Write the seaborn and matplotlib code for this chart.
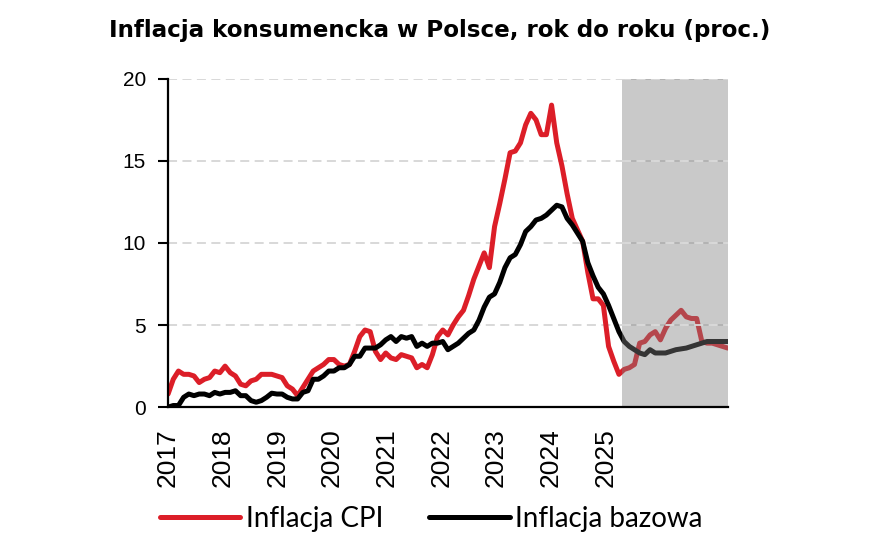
import numpy as np
import pandas as pd
import matplotlib
matplotlib.use('Agg')
import matplotlib.pyplot as plt
import seaborn as sns

# miesiace: XII 2016 - XII 2025
months = pd.date_range('2016-12-01', '2025-12-01', freq='MS')

cpi = [0.8,
       1.7, 2.2, 2.0, 2.0, 1.9, 1.5, 1.7, 1.8, 2.2, 2.1, 2.5, 2.1,
       1.9, 1.4, 1.3, 1.6, 1.7, 2.0, 2.0, 2.0, 1.9, 1.8, 1.3, 1.1,
       0.7, 1.2, 1.7, 2.2, 2.4, 2.6, 2.9, 2.9, 2.6, 2.5, 2.6, 3.4,
       4.3, 4.7, 4.6, 3.4, 2.9, 3.3, 3.0, 2.9, 3.2, 3.1, 3.0, 2.4,
       2.6, 2.4, 3.2, 4.3, 4.7, 4.4, 5.0, 5.5, 5.9, 6.8, 7.8, 8.6,
       9.4, 8.5, 11.0, 12.4, 13.9, 15.5, 15.6, 16.1, 17.2, 17.9, 17.5, 16.6,
       16.6, 18.4, 16.1, 14.7, 13.0, 11.5, 10.8, 10.1, 8.2, 6.6, 6.6, 6.2,
       3.7, 2.8, 2.0, 2.3, 2.4, 2.6, 3.9, 4.0, 4.4, 4.6, 4.1, 4.8,
       5.3, 5.6, 5.9, 5.5, 5.4, 5.4, 4.0, 3.9, 3.9, 3.8, 3.7, 3.6]

bazowa = [0.0,
          0.1, 0.1, 0.6, 0.8, 0.7, 0.8, 0.8, 0.7, 0.9, 0.8, 0.9, 0.9,
          1.0, 0.7, 0.7, 0.4, 0.3, 0.4, 0.6, 0.85, 0.8, 0.8, 0.6, 0.5,
          0.5, 0.9, 1.0, 1.7, 1.7, 1.9, 2.2, 2.2, 2.4, 2.4, 2.6, 3.1,
          3.1, 3.6, 3.6, 3.6, 3.8, 4.1, 4.3, 4.0, 4.3, 4.2, 4.3, 3.7,
          3.9, 3.7, 3.9, 3.9, 4.0, 3.5, 3.7, 3.9, 4.2, 4.5, 4.7, 5.3,
          6.1, 6.7, 6.9, 7.6, 8.5, 9.1, 9.3, 9.9, 10.7, 11.0, 11.4, 11.5,
          11.7, 12.0, 12.3, 12.2, 11.5, 11.1, 10.6, 10.1, 8.8, 8.0, 7.3, 6.9,
          6.2, 5.4, 4.6, 4.0, 3.7, 3.5, 3.3, 3.2, 3.5, 3.3, 3.3, 3.3,
          3.4, 3.5, 3.55, 3.6, 3.7, 3.8, 3.9, 4.0, 4.0, 4.0, 4.0, 4.0]

year_labels = ['2017', '2018', '2019', '2020', '2021', '2022', '2023', '2024', '2025']
y_ticks = [0, 5, 10, 15, 20]
prognoza_od = 87.5  # polowa III/IV 2024

df = pd.DataFrame({'t': np.arange(len(months)), 'cpi': cpi, 'bazowa': bazowa})

sns.set_style('white')
plt.rcParams['font.family'] = ['Liberation Sans', 'DejaVu Sans']
plt.rcParams['text.color'] = 'black'
plt.rcParams['xtick.color'] = 'black'
plt.rcParams['ytick.color'] = 'black'

fig = plt.figure(figsize=(8.8, 5.4), dpi=100)
ax = fig.add_axes([0.191, 0.246, 0.636, 0.608])

red = '#dc1e28'
sns.lineplot(data=df, x='t', y='cpi', color=red, lw=3.6, ax=ax, zorder=2,
             label='Inflacja CPI')
sns.lineplot(data=df, x='t', y='bazowa', color='black', lw=3.6, ax=ax, zorder=2,
             label='Inflacja bazowa')

# siatka pod liniami
for v in y_ticks[1:]:
    ax.axhline(v, color='#d6d6d6', lw=1.3, ls=(0, (5, 3)), zorder=1)

# prognoza - szare tlo na wierzchu
ax.axvspan(prognoza_od, df['t'].iloc[-1], color='#7f7f7f', alpha=0.42, lw=0, zorder=3)
ax.hlines(y_ticks[1:], prognoza_od, df['t'].iloc[-1], color='#dadada', lw=1.3,
          ls=(0, (5, 3)), zorder=4)

ax.set_xlim(0, df['t'].iloc[-1])
ax.set_ylim(0, 20)
ax.set_yticks(y_ticks)
ax.set_yticklabels([str(v) for v in y_ticks], fontsize=15)
ax.set_xticks(np.arange(len(year_labels)) * 10.55)
ax.set_xticklabels(year_labels, rotation=90, fontsize=19)
ax.tick_params(axis='y', length=7, width=1.5, pad=9, color='black', left=True)
ax.tick_params(axis='x', length=0, pad=15)
ax.set_xlabel('')
ax.set_ylabel('')

for s in ['top', 'right']:
    ax.spines[s].set_visible(False)
for s in ['left', 'bottom']:
    ax.spines[s].set_color('black')
    ax.spines[s].set_linewidth(1.6)
    ax.spines[s].set_zorder(5)

ax.get_legend().remove()
h, l = ax.get_legend_handles_labels()
fig.legend(h, l, loc='center', bbox_to_anchor=(0.49, 0.039), ncol=2, frameon=False,
           prop={'family': 'Lato', 'size': 20}, handlelength=2.9, handletextpad=0.2,
           columnspacing=1.65, borderpad=0)

fig.text(0.5, 0.944, 'Inflacja konsumencka w Polsce, rok do roku (proc.)',
         ha='center', va='center', fontsize=16.6, fontweight='bold',
         family='DejaVu Sans')

fig.savefig('out.png', dpi=100)
